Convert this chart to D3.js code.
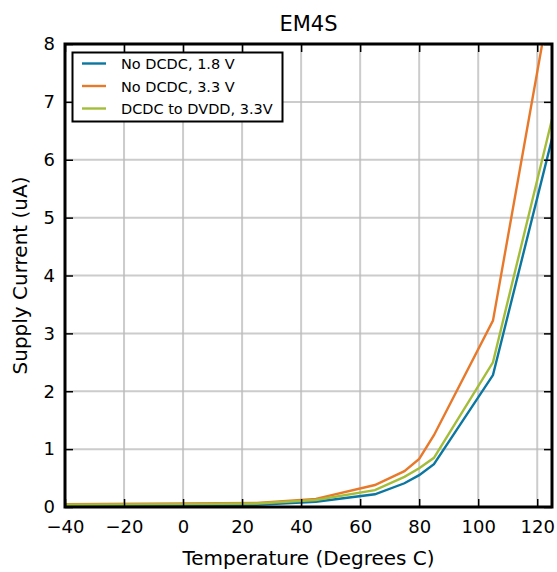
<!DOCTYPE html>
<html><head><meta charset="utf-8">
<script src="https://cdn.jsdelivr.net/npm/d3@7"></script>
<style>body{margin:0;background:#fff}svg{display:block;font-family:"DejaVu Sans",sans-serif}</style>
</head><body>
<svg id="c" width="557" height="572"></svg>
<script>
const temps = [-40, 0, 25, 45, 65, 75, 80, 85, 105, 125];
const noDcdc18 = [0.03, 0.03, 0.04, 0.09, 0.22, 0.41, 0.55, 0.74, 2.28, 6.36];
const noDcdc33 = [0.05, 0.06, 0.07, 0.14, 0.38, 0.62, 0.83, 1.24, 3.22, 8.95];
const dcdcDvdd33 = [0.04, 0.05, 0.06, 0.12, 0.29, 0.52, 0.67, 0.85, 2.50, 6.70];
const seriesNames = ["No DCDC, 1.8 V", "No DCDC, 3.3 V", "DCDC to DVDD, 3.3V"];
const seriesColors = ["#0b76a0", "#e8792b", "#a3bd3a"];
const xTicks = [-40, -20, 0, 20, 40, 60, 80, 100, 120];
const yTicks = [0, 1, 2, 3, 4, 5, 6, 7, 8];

const svg = d3.select("#c");
const L = 65, R = 552, T = 44, B = 507;
const x = d3.scaleLinear().domain([-40, 125]).range([L, R]);
const y = d3.scaleLinear().domain([0, 8]).range([B, T]);

// grid
const g = svg.append("g");
g.selectAll(".gx").data(xTicks).join("line")
  .attr("x1", d => x(d)).attr("x2", d => x(d)).attr("y1", T).attr("y2", B)
  .attr("stroke", "#bbb").attr("stroke-width", 2).attr("opacity", 0.75);
g.selectAll(".gy").data(yTicks).join("line")
  .attr("y1", d => y(d)).attr("y2", d => y(d)).attr("x1", L).attr("x2", R)
  .attr("stroke", "#bbb").attr("stroke-width", 2).attr("opacity", 0.75);

svg.append("defs").append("clipPath").attr("id", "clip")
  .append("rect").attr("x", L).attr("y", T).attr("width", R - L).attr("height", B - T);

const data = [noDcdc18, noDcdc33, dcdcDvdd33];
const line = d3.line().x((d, i) => x(temps[i])).y(d => y(d));
svg.append("g").attr("clip-path", "url(#clip)").selectAll("path").data(data).join("path")
  .attr("d", line).attr("fill", "none")
  .attr("stroke", (d, i) => seriesColors[i]).attr("stroke-width", 2.4)
  .attr("stroke-linejoin", "miter");

// axes with inward ticks
const fs = 18;
const axB = svg.append("g").attr("transform", `translate(0,${B})`)
  .call(d3.axisBottom(x).tickValues(xTicks).tickSizeInner(-8).tickSizeOuter(0).tickPadding(13).tickFormat(d => d < 0 ? "\u2212" + Math.abs(d) : d));
const axT = svg.append("g").attr("transform", `translate(0,${T})`)
  .call(d3.axisTop(x).tickValues(xTicks).tickSizeInner(-8).tickSizeOuter(0).tickFormat(""));
const axL = svg.append("g").attr("transform", `translate(${L},0)`)
  .call(d3.axisLeft(y).tickValues(yTicks).tickSizeInner(-8).tickSizeOuter(0).tickPadding(10));
const axR = svg.append("g").attr("transform", `translate(${R},0)`)
  .call(d3.axisRight(y).tickValues(yTicks).tickSizeInner(-8).tickSizeOuter(0).tickFormat(""));
[axB, axT, axL, axR].forEach(a => {
  a.select(".domain").remove();
  a.selectAll(".tick line").attr("stroke", "#000").attr("stroke-width", 1.5);
  a.selectAll("text").attr("font-family", "DejaVu Sans").attr("font-size", fs).attr("fill", "#000");
});

svg.append("rect").attr("x", L).attr("y", T).attr("width", R - L).attr("height", B - T)
  .attr("fill", "none").attr("stroke", "#000").attr("stroke-width", 3);

// title & labels
svg.append("text").attr("x", (L + R) / 2).attr("y", 31).attr("text-anchor", "middle")
  .attr("font-size", 21).text("EM4S");
svg.append("text").attr("x", (L + R) / 2).attr("y", 565).attr("text-anchor", "middle")
  .attr("font-size", 20).text("Temperature (Degrees C)");
svg.append("text").attr("transform", `translate(27,${(T + B) / 2}) rotate(-90)`).attr("text-anchor", "middle")
  .attr("font-size", 20).text("Supply Current (uA)");

// legend
const lg = svg.append("g");
lg.append("rect").attr("x", 72.5).attr("y", 52.5).attr("width", 210).attr("height", 69)
  .attr("fill", "#fff").attr("stroke", "#000").attr("stroke-width", 2);
seriesNames.forEach((n, i) => {
  const yy = 63.5 + i * 22.5;
  lg.append("line").attr("x1", 82).attr("x2", 106).attr("y1", yy).attr("y2", yy)
    .attr("stroke", seriesColors[i]).attr("stroke-width", 2.4);
  lg.append("text").attr("x", 121).attr("y", yy + 5.5).attr("font-size", 14.5).text(n);
});
</script>
</body></html>
